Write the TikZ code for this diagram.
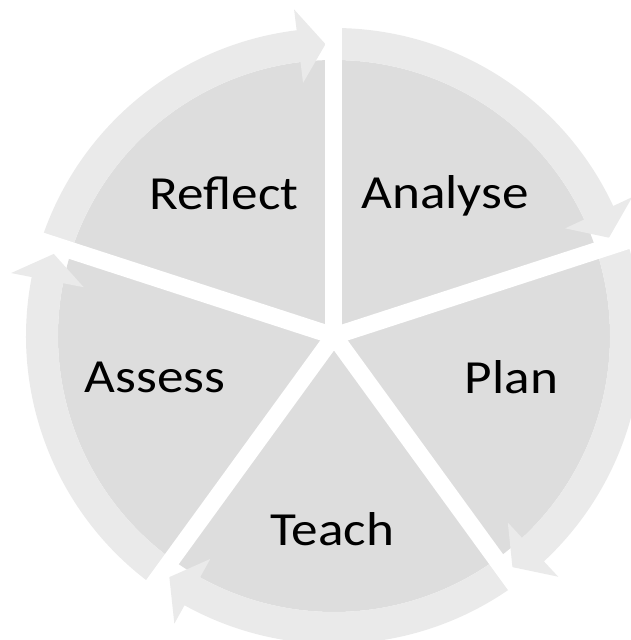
\documentclass[tikz,border=0pt]{standalone}
\usepackage{fontspec}
\setmainfont{Carlito}
\definecolor{slicegray}{RGB}{221,221,221}
\definecolor{ringgray}{RGB}{234,234,234}

\begin{document}
\begin{tikzpicture}[x=1pt,y=1pt,
	wedge/.style={fill=slicegray},
	band/.style={fill=ringgray},
	cut/.style={white,line width=17pt},
	stage/.style={font=\fontsize{47.5}{50}\selectfont,xscale=1.12,anchor=base,inner sep=0pt}]
	
	\useasboundingbox (-334,-304) rectangle (296,336);
	
	% pie
	\foreach \a in {90,18,-54,-126,162}
		\fill[wedge] (0,0) -- (\a:276pt) arc[start angle=\a,end angle=\a-72,radius=276pt] -- cycle;
	
	% clockwise arrows round the pie
	\foreach \a in {90,18,-54,-126,162}
	{
		\pgfmathsetmacro{\e}{\a-72+1.67};
		\pgfmathsetmacro{\b}{\e+5.3};
		\fill[band] (\a:276pt) arc[start angle=\a,end angle=\b,radius=276pt]
			-- (\b:255pt) -- (\e:292pt) -- (\b:329pt) -- (\b:308pt)
			arc[start angle=\b,end angle=\a,radius=308pt] -- cycle;
	}
	
	% white gaps
	\foreach \a in {90,18,-54,-126,162}
		\draw[cut] (0,0) -- (\a:330pt);
	
	\node[stage] (reflect) at (-110,126) {Reflect};
	\node[stage] (analyse) at (111,127) {Analyse};
	\node[stage] (plan) at (177.5,-57) {Plan};
	\node[stage] (teach) at (-1.5,-209) {Teach};
	\node[stage] (assess) at (-179,-56) {Assess};
\end{tikzpicture}
\end{document}
